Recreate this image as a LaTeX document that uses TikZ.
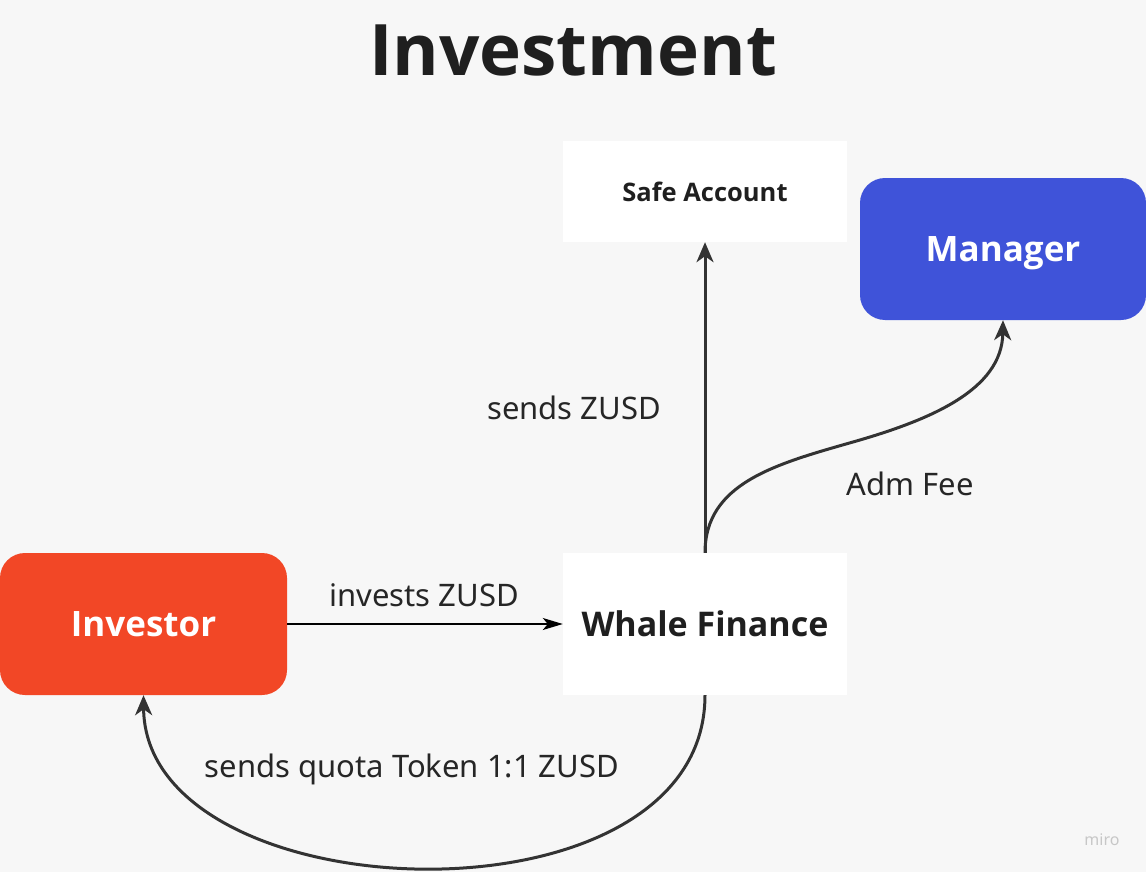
\documentclass[tikz,border=0pt]{standalone}
\usepackage{fontspec}
\setmainfont{Noto Sans}
\newfontfamily\headfont{Open Sans}
\usetikzlibrary{arrows.meta}

\definecolor{bg}{HTML}{F7F7F7}
\definecolor{ink}{HTML}{333333}
\definecolor{mblue}{HTML}{3F53D9}
\definecolor{mred}{HTML}{F24726}

\def\lsize{\fontsize{31}{36}\selectfont}
\def\headsize#1{\headfont\bfseries\fontsize{#1}{#1}\selectfont}
\tikzstyle{box}=[fill=white,inner sep=0pt,text depth=0pt,font=\headsize{34},text=black!88]
\tikzstyle{party}=[rounded corners=25pt,minimum width=286pt,minimum height=142pt,inner sep=0pt,text depth=0pt,text=white,font=\headsize{35}]
\tikzstyle{flow}=[draw=ink,line width=3pt,-{Stealth[length=20pt,width=17pt,inset=6pt]}]
\tikzstyle{label}=[font=\lsize,text=black!85,inner sep=0pt]

\begin{document}
\begin{tikzpicture}[x=1pt,y=-1pt]
       \fill[bg] (0,0) rectangle (1146,872);
       \useasboundingbox (0,0) rectangle (1146,872);

       \node[font=\headsize{71},text=black!88] (title) at (573,51) {Investment};

       \node[box,minimum width=284pt,minimum height=101pt,font=\headsize{25.5}] (safe) at (705,191.5) {Safe Account};
       \node[box,minimum width=284pt,minimum height=142pt] (whale) at (705,624) {Whale Finance};
       \node[party,fill=mblue] (manager) at (1003,249) {Manager};
       \node[party,fill=mred,minimum width=287pt] (investor) at (143.5,624) {Investor};

       \draw[black,line width=1.5pt,-{Stealth[length=20pt,width=12pt,inset=5pt]}] (investor.east) -- (whale.west);
       \draw[flow] (whale.north) -- (safe.south);
       \draw[flow] (whale.north) .. controls (705,483) and (776,464) .. (853,442)
                                 .. controls (930,420) and (1002,390) .. (manager.south);
       \draw[flow] (whale.south) .. controls (705,935) and (145,915) .. (investor.south);

       \foreach \pos/\name/\txt in {{(424,595)/invest/invests ZUSD}, {(574,408)/safesend/sends ZUSD}, {(910,484)/fee/Adm Fee}, {(412,769)/quota/sends quota Token 1:1 ZUSD}} {
           \node[label] (\name) at \pos {\txt};
       }

       \node[font=\fontsize{16}{18}\selectfont,text=black!22] (miro) at (1102,840) {miro};
\end{tikzpicture}
\end{document}
